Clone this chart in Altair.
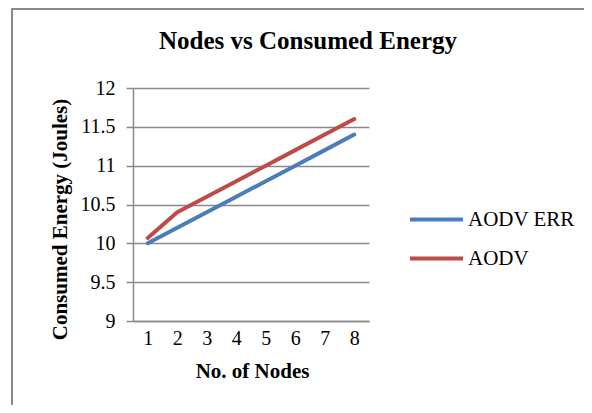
import altair as alt
import pandas as pd

nodes = [1, 2, 3, 4, 5, 6, 7, 8]
aodv_err = [10.0, 10.2, 10.4, 10.6, 10.8, 11.0, 11.2, 11.4]
aodv = [10.07, 10.4, 10.6, 10.8, 11.0, 11.2, 11.4, 11.6]
series_names = ["AODV ERR", "AODV"]
series_colors = ["#4A7EBB", "#BE4B48"]
y_ticks = [9, 9.5, 10, 10.5, 11, 11.5, 12]

rows = []
for n, a, b in zip(nodes, aodv_err, aodv):
    rows.append({"nodes": n, "series": series_names[0], "energy": a})
    rows.append({"nodes": n, "series": series_names[1], "energy": b})
df = pd.DataFrame(rows)

FONT = "Liberation Serif"
GRAY = "#8a8a8a"
W, H = 236, 233

frame = alt.Chart(pd.DataFrame({"d": [0]})).mark_rect(
    fillOpacity=0, stroke=GRAY, strokeWidth=2
).encode(
    x=alt.value(-121), x2=alt.value(470), y=alt.value(-79), y2=alt.value(330)
)

lines = alt.Chart(df).mark_line(
    strokeWidth=4, strokeCap="round", strokeJoin="round"
).encode(
    x=alt.X(
        "nodes:O",
        title="No. of Nodes",
        axis=alt.Axis(
            labelAngle=0, ticks=False, domainColor=GRAY, domainWidth=1.5,
            labelFont=FONT, labelFontSize=20, labelPadding=7, labelColor="black",
            titleFont=FONT, titleFontSize=21, titleFontWeight="bold", titleColor="black",
            titleX=119, titleY=56, titleBaseline="alphabetic", titleAlign="center",
            grid=False,
        ),
    ),
    y=alt.Y(
        "energy:Q",
        title="Consumed Energy (Joules)",
        scale=alt.Scale(domain=[9, 12], zero=False, nice=False),
        axis=alt.Axis(
            values=y_ticks, format="~g", grid=True, gridColor=GRAY, gridWidth=1.5,
            tickColor=GRAY, tickSize=7, tickWidth=1.5, domainColor=GRAY, domainWidth=1.5,
            labelFont=FONT, labelFontSize=20, labelPadding=11, labelColor="black",
            titleFont=FONT, titleFontSize=21, titleFontWeight="bold", titleColor="black",
            titleX=-67, titleY=131, titleAngle=270, titleBaseline="alphabetic",
            titleAlign="center",
        ),
    ),
    color=alt.Color(
        "series:N",
        sort=series_names,
        scale=alt.Scale(domain=series_names, range=series_colors),
        legend=alt.Legend(
            title=None, orient="none", legendX=275, legendY=103,
            symbolType="stroke", symbolSize=2809, symbolStrokeWidth=4,
            labelFont=FONT, labelFontSize=21, labelColor="black", labelOffset=3,
            rowPadding=-13, padding=0,
        ),
    ),
)

chart = alt.layer(frame, lines).properties(
    width=W,
    height=H,
    title=alt.TitleParams(
        "Nodes vs Consumed Energy", font=FONT, fontSize=25, fontWeight="bold",
        color="black", anchor="middle", dx=57, dy=66, offset=0, baseline="alphabetic",
    ),
    autosize=alt.AutoSizeParams(type="none"),
    padding={"left": 125, "top": 80, "right": 215, "bottom": 84},
).configure_view(strokeWidth=0)

chart.save("out.html", embed_options={"renderer": "svg", "actions": False})
